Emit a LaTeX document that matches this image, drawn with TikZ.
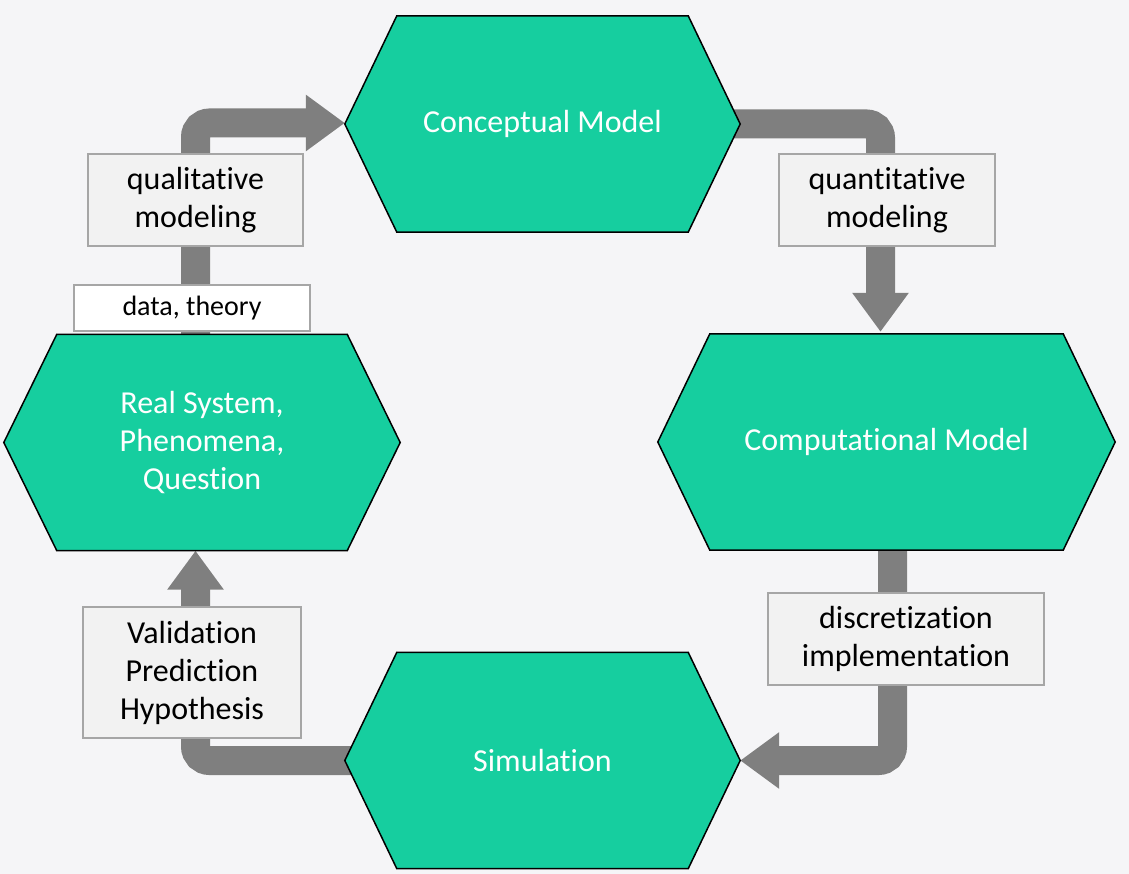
\documentclass[tikz,border=0pt]{standalone}
\usepackage{fontspec}
\setmainfont{Carlito}[Ligatures={NoCommon}]
\usetikzlibrary{arrows.meta,calc}
\definecolor{bgcol}{HTML}{F5F5F7}
\definecolor{hexgreen}{HTML}{16CE9F}
\definecolor{arrowgray}{HTML}{7F7F7F}
\definecolor{boxgray}{HTML}{F2F2F2}
\definecolor{boxline}{HTML}{A6A6A6}
\pgfdeclarelayer{back}
\pgfdeclarelayer{arrowlayer}
\pgfdeclarelayer{hexlayer}
\pgfsetlayers{back,arrowlayer,hexlayer,main}
\begin{document}
\begin{tikzpicture}[x=1pt,y=-1pt,
  hexnode/.style={draw=none, inner sep=0pt, align=center, text=white,
    font=\fontsize{32}{38}\selectfont, minimum height=216pt},
  hexshape/.style={draw=black, line width=1.5pt, fill=hexgreen, line join=miter},
  lbl/.style={draw=boxline, fill=boxgray, line width=1.5pt, inner sep=0pt,
    align=center, text=black, font=\fontsize{32}{38}\selectfont},
  bigarrow/.style={line width=29pt, draw=arrowgray, rounded corners=14pt,
    -{Triangle[length=39pt 0 0, width=54pt 0 0]}}]
\begin{pgfonlayer}{back}
\fill[bgcol] (0,0) rectangle (1129,874);
\end{pgfonlayer}
\useasboundingbox (0,0) rectangle (1129,874);

% hexagon nodes
\node[hexnode, minimum width=395pt] (cm) at (542.5,124) {Conceptual Model};
\node[hexnode, minimum width=396pt] (rs) at (202,442.5) {Real System,\\Phenomena,\\Question};
\node[hexnode, minimum width=457pt] (cmp) at (886.5,442) {Computational Model};
\node[hexnode, minimum width=395pt] (sim) at (542.5,760.5) {Simulation};

\begin{pgfonlayer}{hexlayer}
\foreach \n/\d in {cm/52pt, rs/53pt, cmp/52pt, sim/52pt}{
  \draw[hexshape] (\n.west) -- ([xshift=\d]\n.north west) -- ([xshift=-\d]\n.north east)
    -- (\n.east) -- ([xshift=-\d]\n.south east) -- ([xshift=\d]\n.south west) -- cycle;
}
\end{pgfonlayer}

% arrows
\begin{pgfonlayer}{arrowlayer}
\draw[bigarrow] ([xshift=-6.5pt,yshift=-20pt]rs.north) |- ([yshift=1pt]cm.west);
\draw[bigarrow] ([xshift=-20pt]cm.east) -| ([xshift=-6pt,yshift=2pt]cmp.north);
\draw[bigarrow] ([xshift=6pt,yshift=20pt]cmp.south) |- (sim.east);
\draw[bigarrow] ([xshift=20pt]sim.west) -| ([xshift=-6.5pt]rs.south);
\end{pgfonlayer}

% labels
\node[lbl, minimum width=215pt, minimum height=92pt] (qual) at (195.5,200) {qualitative\\modeling};
\node[lbl, fill=white, minimum width=236pt, minimum height=46pt,
  font=\fontsize{28}{32}\selectfont] (data) at (192,308) {data, theory};
\node[lbl, minimum width=216pt, minimum height=92pt] (quant) at (887,200) {quantitative\\modeling};
\node[lbl, minimum width=276pt, minimum height=92pt] (disc) at (906,639) {discretization\\implementation};
\node[lbl, minimum width=218pt, minimum height=131pt] (valid) at (192,672.5) {Validation\\Prediction\\Hypothesis};
\end{tikzpicture}
\end{document}
